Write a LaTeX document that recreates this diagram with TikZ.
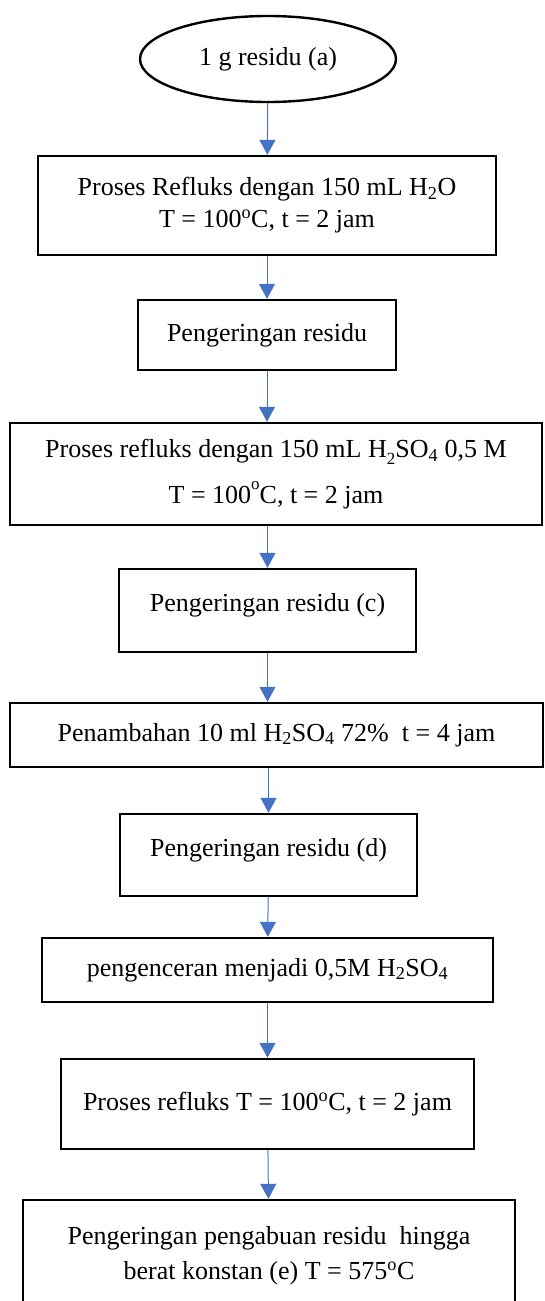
\documentclass[tikz,border=0pt]{standalone}
\usepackage{fontspec}
\setmainfont{Liberation Serif}
\usepackage{tikz}
\usetikzlibrary{arrows.meta,shapes.geometric}
\usetikzlibrary{positioning}
\definecolor{arrowblue}{RGB}{68,114,196}

\begin{document}
\begin{tikzpicture}[x=1pt,y=-1pt,
		box/.style={draw,line width=2.4pt,align=center,inner sep=0pt,font=\fontsize{26}{32}\selectfont},
		flow/.style={draw=arrowblue,line width=1pt,-{Triangle[width=16pt,length=15pt,fill=arrowblue]}}]
		\useasboundingbox (0,0) rectangle (544,1301);
		\clip (0,0) rectangle (544,1301);
		%start of the flow
		\node[box,ellipse,minimum width=256pt,minimum height=86pt] (residu) at (268,59) {\raisebox{-3pt}{1 g residu (a)}};
		%process boxes
		\node[box,minimum width=458pt,minimum height=99pt] (reflukA) at (267,205.5) {Proses Refluks dengan 150 mL H\textsubscript{2}O\\T = 100\textsuperscript{o}C, t = 2 jam};
		\node[box,minimum width=258pt,minimum height=70pt] (keringA) at (267,335) {Pengeringan residu};
		\node[box,minimum width=532pt,minimum height=102pt] (reflukB) at (276,474) {Proses refluks dengan 150 mL H\raisebox{-7pt}{\fontsize{17}{17}\selectfont 2}SO\textsubscript{4} 0,5 M\\[14pt]T = 100\raisebox{14pt}{\fontsize{17}{17}\selectfont o}C, t = 2 jam};
		\node[box,minimum width=297pt,minimum height=83pt] (keringC) at (267.5,610.5) {Pengeringan residu (c)\\[-16pt]};
		\node[box,minimum width=533pt,minimum height=64pt] (tambah) at (276.5,735) {Penambahan 10 ml H\textsubscript{2}SO\textsubscript{4} 72\%~~t = 4 jam};
		\node[box,minimum width=297pt,minimum height=82pt] (keringD) at (268.5,855) {Pengeringan residu (d)\\[-16pt]};
		\node[box,minimum width=451pt,minimum height=64pt] (encer) at (267.5,970) {pengenceran menjadi 0,5M H\textsubscript{2}SO\textsubscript{4}};
		\node[box,minimum width=413pt,minimum height=90pt] (reflukC) at (267.5,1104) {Proses refluks T = 100\textsuperscript{o}C, t = 2 jam};
		\node[box,minimum width=492pt,minimum height=112pt] (abu) at (269,1256) {Pengeringan pengabuan residu~~hingga\\[3pt]berat konstan (e) T = 575\textsuperscript{o}C};
		%connectors
		\draw[flow] (residu)--(reflukA);
		\draw[flow] (reflukA)--(keringA);
		\draw[flow] (keringA)--(keringA.south|-reflukB.north);
		\draw[flow] (keringC.north|-reflukB.south)--(keringC);
		\draw[flow] (keringC)--(keringC.south|-tambah.north);
		\draw[flow] (keringD.north|-tambah.south)--(keringD);
		\draw[flow] (keringD)--(encer);
		\draw[flow] (encer)--(reflukC);
		\draw[flow] (reflukC)--(abu);
	\end{tikzpicture}
\end{document}
